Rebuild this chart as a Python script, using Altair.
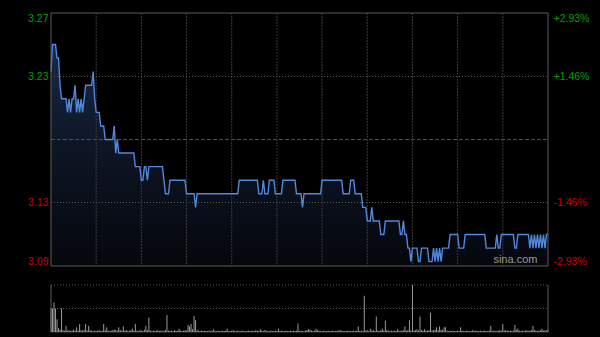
import altair as alt
import pandas as pd

# ---------------- data ----------------
prev_close = 3.18
price_lo, price_hi = 3.0868, 3.2732

run_prices = [3.23, 3.25, 3.24, 3.22, 3.21,
              3.20, 3.21, 3.20, 3.21, 3.22, 3.20, 3.21, 3.20, 3.21, 3.20, 3.21,
              3.22, 3.23, 3.21, 3.20, 3.19, 3.18,
              3.19, 3.17, 3.18, 3.17, 3.16,
              3.15, 3.16, 3.15, 3.16, 3.15, 3.14, 3.15,
              3.14, 3.13, 3.14,
              3.15, 3.14, 3.15, 3.14, 3.15, 3.14, 3.15, 3.14, 3.13, 3.14,
              3.15, 3.14, 3.15, 3.14, 3.13, 3.12, 3.13, 3.12, 3.11, 3.12,
              3.11, 3.12, 3.11, 3.10, 3.09, 3.10, 3.09, 3.10, 3.09, 3.10,
              3.09, 3.10, 3.09, 3.10, 3.09,
              3.10, 3.11, 3.10, 3.11, 3.10, 3.11, 3.10, 3.11, 3.10, 3.11,
              3.10, 3.11, 3.10, 3.11, 3.10, 3.11, 3.10, 3.11, 3.10, 3.11, 3.10, 3.11]
run_lengths = [1, 3, 2, 1, 4,
               1, 1, 1, 2, 1, 1, 1, 1, 1, 1, 1,
               5, 1, 1, 3, 3, 6,
               1, 1, 1, 11, 4,
               2, 2, 1, 10, 1, 3, 11,
               6, 1, 28,
               13, 3, 1, 3, 4, 5, 9, 4, 1, 12,
               14, 5, 3, 5, 3, 3, 1, 5, 3, 10,
               2, 1, 2, 2, 1, 4, 2, 5, 3, 1,
               1, 1, 1, 1, 1,
               5, 6, 4, 14, 7, 1, 2, 9, 2, 8,
               1, 1, 1, 1, 1, 1, 1, 1, 1, 1, 1, 2]

volumes = [50, 50, 63, 50, 27, 8, 5, 50, 4, 3,
           13, 3, 4, 2, 3, 5, 3, 10, 3, 17,
           4, 3, 5, 17, 3, 13, 4, 3, 2, 3,
           2, 3, 4, 2, 3, 17, 4, 10, 3, 2,
           3, 4, 5, 4, 3, 10, 4, 3, 12, 3,
           4, 2, 3, 4, 7, 3, 17, 3, 2, 4,
           3, 2, 5, 13, 4, 31, 3, 2, 3, 2,
           3, 4, 2, 3, 2, 3, 4, 36, 3, 2,
           3, 2, 4, 3, 2, 7, 3, 2, 3, 4,
           3, 15, 12, 17, 6, 34, 25, 4, 3, 2,
           3, 2, 3, 2, 2, 3, 2, 3, 6, 2,
           2, 3, 2, 2, 3, 2, 3, 7, 2, 2,
           3, 4, 2, 2, 3, 2, 2, 3, 2, 2,
           2, 3, 2, 2, 3, 2, 4, 3, 2, 6,
           3, 2, 4, 3, 2, 2, 3, 2, 2, 3,
           2, 7, 2, 3, 2, 2, 3, 2, 2, 3,
           2, 3, 2, 3, 18, 2, 3, 2, 2, 3,
           4, 6, 5, 3, 2, 3, 7, 4, 3, 2,
           2, 3, 2, 2, 3, 2, 2, 3, 2, 2,
           3, 3, 4, 3, 2, 2, 2, 3, 2, 2,
           2, 3, 2, 3, 12, 2, 3, 2, 77, 3,
           4, 2, 7, 3, 4, 2, 33, 3, 2, 4,
           7, 3, 24, 4, 3, 2, 3, 2, 3, 2,
           6, 3, 2, 3, 4, 12, 3, 4, 25, 3,
           100, 3, 4, 6, 3, 33, 4, 3, 6, 3,
           3, 4, 41, 3, 4, 5, 10, 4, 12, 5,
           4, 10, 10, 3, 2, 3, 2, 3, 2, 2,
           3, 2, 10, 3, 2, 2, 3, 2, 2, 2,
           4, 2, 3, 2, 2, 3, 2, 2, 3, 2,
           2, 3, 13, 2, 3, 2, 2, 3, 4, 3,
           17, 3, 4, 3, 2, 3, 2, 3, 15, 5,
           7, 3, 2, 3, 2, 3, 4, 2, 3, 4,
           13, 4, 3, 2, 3, 4, 7, 3, 4, 3,
           5]

grid_minutes = [30, 60, 90, 120, 150, 180, 210, 240, 270, 300]
price_ticks = [3.0868, 3.1336, 3.2264, 3.2732]
price_mid_lines = [3.1336, 3.2264]
pct_ticks = [-2.93, -1.46, 1.46, 2.93]
vol_dotted = [50, 100]

prices = []
for p, n in zip(run_prices, run_lengths):
    prices.extend([p] * n)
df = pd.DataFrame({"minute": list(range(len(prices))),
                   "price": prices,
                   "volume": volumes[:len(prices)]})

# ---------------- scales ----------------
W = 497
H_PRICE = 253
H_ALL = 319
VOL_TOP = 272
FONT = "Liberation Sans"

xs = alt.Scale(domain=[0, 330], range=[0, W])
ps = alt.Scale(domain=[price_lo, price_hi], range=[H_PRICE, 0])
pcs = alt.Scale(domain=[-2.93, 2.93], range=[H_PRICE, 0])
vs = alt.Scale(domain=[0, 100], range=[H_ALL, VOL_TOP])

X = alt.X("minute:Q", scale=xs, axis=None)
one = pd.DataFrame({"a": [0]})

area = alt.Chart(df).mark_area(
    color=alt.Gradient(
        gradient="linear",
        stops=[alt.GradientStop(color="#1a2943", offset=0),
               alt.GradientStop(color="#0d1423", offset=0.5),
               alt.GradientStop(color="#05070c", offset=1)],
        x1=0, x2=0, y1=0, y2=1),
).encode(
    x=X,
    y=alt.Y("price:Q", scale=ps, axis=alt.Axis(
        values=price_ticks, format=".2f", domain=False, ticks=False, grid=False,
        labelFlush=True, labelPadding=3, labelFont=FONT, labelFontSize=10.5,
        labelColor={"condition": {"test": "datum.value > 3.18", "value": "#00a000"},
                    "value": "#cc0000"},
        title=None)),
    y2=alt.datum(price_lo),
)

vgrid = alt.Chart(pd.DataFrame({"minute": grid_minutes})).mark_rule(
    color="#3a3a3a", strokeDash=[2, 1], strokeWidth=1).encode(
    x=X,
    y=alt.YDatum(price_hi, scale=ps, axis=None),
    y2=alt.datum(price_lo),
)

hgrid = alt.Chart(pd.DataFrame({"price": price_mid_lines})).mark_rule(
    color="#5a5a5a", strokeDash=[1, 2], strokeWidth=1).encode(
    x=alt.XDatum(0, scale=xs, axis=None),
    x2=alt.datum(330),
    y=alt.Y("price:Q", scale=ps, axis=None),
)

mid = alt.Chart(pd.DataFrame({"pct": [0.0]})).mark_rule(
    color="#4e4e4e", strokeDash=[4, 2], strokeWidth=1).encode(
    x=alt.XDatum(0, scale=xs, axis=None),
    x2=alt.datum(330),
    y=alt.Y("pct:Q", scale=pcs, axis=alt.Axis(
        orient="right", values=pct_ticks, domain=False, ticks=False, grid=False,
        labelFlush=True, labelPadding=5, labelFont=FONT, labelFontSize=10.5,
        labelExpr="(datum.value > 0 ? '+' : '-') + format(abs(datum.value), '.2f') + '%'",
        labelColor={"condition": {"test": "datum.value > 0", "value": "#00a000"},
                    "value": "#cc0000"},
        title=None)),
)

line = alt.Chart(df).mark_line(color="#5089de", strokeWidth=1.4).encode(
    x=X,
    y=alt.Y("price:Q", scale=ps, axis=None),
)

frame = alt.Chart(one).mark_rect(fillOpacity=0, stroke="#5c5c5c", strokeWidth=1).encode(
    x=alt.XDatum(0, scale=xs, axis=None),
    x2=alt.datum(330),
    y=alt.YDatum(price_hi, scale=ps, axis=None),
    y2=alt.datum(price_lo),
)

wm = alt.Chart(pd.DataFrame({"t": ["sina.com"]})).mark_text(
    align="right", baseline="bottom", color="#9a9a9a", fontSize=11, font=FONT, dy=-1).encode(
    x=alt.XDatum(323, scale=xs, axis=None),
    y=alt.YDatum(price_lo, scale=ps, axis=None),
    text="t:N",
)

vbars = alt.Chart(df).mark_rule(color="#9a9a9a", strokeWidth=1).encode(
    x=X,
    y=alt.Y("volume:Q", scale=vs, axis=None),
    y2=alt.datum(0),
)

vdots = alt.Chart(pd.DataFrame({"v": vol_dotted})).mark_rule(
    color="#5a5a5a", strokeDash=[1, 2], strokeWidth=1).encode(
    x=alt.XDatum(0, scale=xs, axis=None),
    x2=alt.datum(330),
    y=alt.Y("v:Q", scale=vs, axis=None),
)

vsides = alt.Chart(pd.DataFrame({"minute": [0, 330]})).mark_rule(
    color="#5c5c5c", strokeWidth=1).encode(
    x=X,
    y=alt.YDatum(0, scale=vs, axis=None),
    y2=alt.datum(100),
)

vbottom = alt.Chart(pd.DataFrame({"v": [0]})).mark_rule(
    color="#444444", strokeWidth=1).encode(
    x=alt.XDatum(0, scale=xs, axis=None),
    x2=alt.datum(330),
    y=alt.Y("v:Q", scale=vs, axis=None),
)

chart = alt.layer(
    area, vgrid, hgrid, mid, line, frame, wm, vbottom, vdots, vbars, vsides
).resolve_scale(
    y="independent"
).properties(
    width=W, height=H_ALL,
    padding={"left": 51, "top": 13, "right": 52, "bottom": 5},
    autosize=alt.AutoSizeParams(type="none"),
    background="#000000",
).configure_view(stroke=None)

chart.save("out.html", embed_options={"renderer": "svg", "actions": False})
